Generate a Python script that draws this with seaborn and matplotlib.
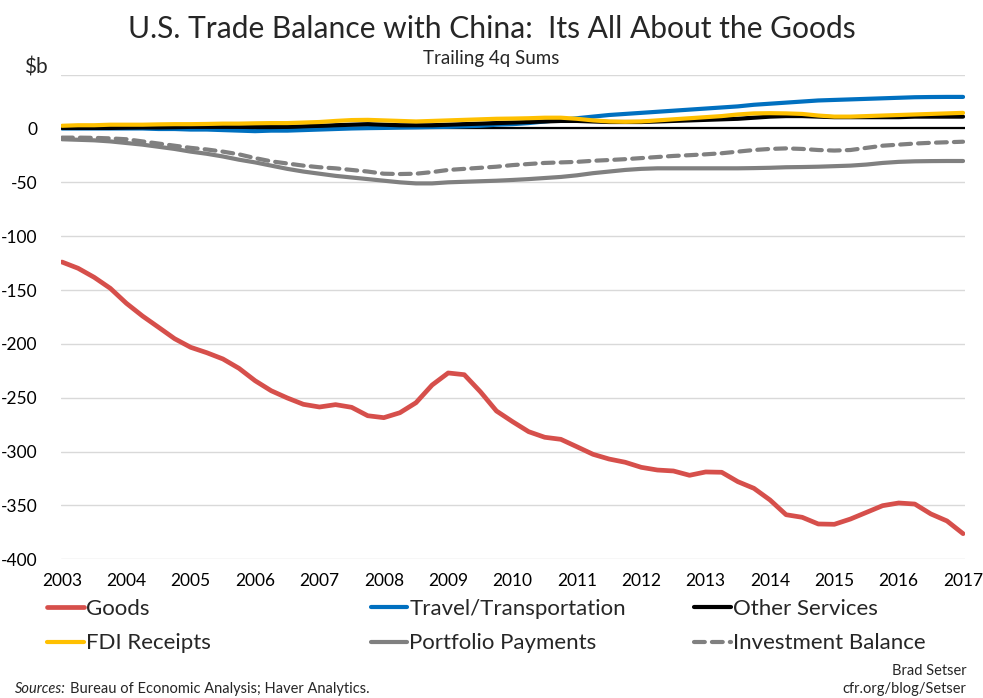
import numpy as np
import pandas as pd
import matplotlib
matplotlib.use("Agg")
import matplotlib.pyplot as plt
import seaborn as sns

# Quarterly trailing four-quarter sums, 2003 through 2017 ($ billions)
years = list(range(2003, 2018))

goods = [-124.0, -129.8, -138.2, -148.4, -162.3, -174.1, -184.6, -195.2,
         -203.2, -208.2, -214.0, -222.7, -234.2, -243.5, -250.2, -256.1,
         -258.6, -256.4, -258.9, -266.7, -268.5, -263.9, -254.6, -238.2,
         -227.0, -228.6, -244.4, -262.3, -272.2, -281.5, -286.7, -288.6,
         -295.5, -302.5, -306.9, -309.9, -314.6, -317.1, -318.0, -322.0,
         -318.9, -319.2, -327.9, -334.1, -344.9, -358.6, -361.0, -367.2,
         -367.5, -362.6, -356.4, -350.2, -347.7, -348.7, -357.9, -364.4,
         -376.2]

travel = [0.0, 0.0, 0.0, 0.0, 0.0, 0.0, -0.5, -0.5, -1.0, -1.0, -1.5, -2.0,
          -2.5, -2.0, -2.0, -1.5, -1.0, -0.5, 0.0, 0.3, 0.5, 0.8, 1.0, 1.3,
          1.5, 2.0, 2.5, 3.5, 4.0, 5.0, 6.5, 8.0, 9.5, 11.0, 12.5, 13.5,
          14.5, 15.5, 16.5, 17.5, 18.5, 19.5, 20.5, 22.0, 23.0, 24.0, 25.0,
          26.0, 26.5, 27.0, 27.5, 28.0, 28.5, 29.0, 29.2, 29.3, 29.3]

other_services = [0.5, 0.5, 0.5, 0.5, 0.8, 1.0, 1.0, 1.2, 1.5, 1.5, 1.5, 1.5,
                  1.3, 1.3, 1.5, 2.0, 2.5, 3.0, 3.5, 4.0, 3.5, 3.0, 3.0, 3.0,
                  3.5, 4.0, 4.5, 5.0, 5.5, 6.0, 6.5, 7.0, 7.0, 6.5, 6.0, 6.0,
                  6.0, 6.5, 7.0, 7.5, 8.0, 8.5, 9.0, 10.0, 11.0, 11.5, 11.5,
                  11.0, 10.5, 10.5, 10.5, 10.5, 10.5, 11.0, 11.0, 11.0, 11.0]

fdi_receipts = [2.5, 3.0, 3.0, 3.5, 3.5, 3.5, 3.8, 4.0, 4.0, 4.2, 4.5, 4.5,
                4.8, 5.0, 5.0, 5.5, 6.0, 7.0, 7.8, 8.0, 7.5, 7.0, 6.5, 7.0,
                7.5, 8.0, 8.5, 9.0, 9.2, 9.5, 10.0, 10.0, 9.0, 7.5, 6.5, 6.2,
                6.5, 7.5, 8.5, 9.5, 10.5, 11.5, 13.0, 14.0, 14.2, 14.0, 13.5,
                12.0, 11.0, 11.0, 11.5, 12.0, 12.5, 13.0, 13.5, 14.0, 14.5]

portfolio = [-10.0, -10.5, -11.0, -12.0, -13.5, -15.0, -17.0, -19.0, -21.5,
             -23.5, -26.0, -29.0, -31.5, -34.5, -37.5, -40.0, -42.0, -44.0,
             -45.5, -47.0, -48.5, -50.0, -51.0, -51.0, -50.0, -49.5, -49.0,
             -48.5, -47.8, -47.0, -46.0, -45.0, -43.5, -41.5, -40.0, -38.5,
             -37.5, -37.0, -37.0, -37.0, -37.0, -37.0, -37.0, -36.8, -36.5,
             -36.0, -35.8, -35.5, -35.0, -34.5, -33.5, -32.0, -31.0, -30.5,
             -30.3, -30.2, -30.2]

investment = [-8.5, -8.5, -8.7, -9.2, -10.0, -12.0, -14.0, -16.0, -18.0,
              -19.5, -21.5, -24.0, -27.5, -30.5, -32.5, -34.5, -36.0, -37.0,
              -38.5, -40.0, -42.0, -42.3, -42.0, -40.5, -38.5, -37.5, -36.5,
              -35.5, -34.0, -33.0, -32.0, -31.5, -31.0, -30.0, -29.3, -28.5,
              -27.5, -26.5, -25.5, -24.8, -24.0, -23.0, -21.5, -20.0, -19.0,
              -18.5, -19.0, -20.0, -20.5, -20.0, -18.0, -16.0, -15.0, -14.0,
              -13.3, -12.8, -12.3]

series = [
    ("Goods", goods, "#D64F4B", 3.4, "-"),
    ("Travel/Transportation", travel, "#0070C0", 3.0, "-"),
    ("Other Services", other_services, "#000000", 3.0, "-"),
    ("FDI Receipts", fdi_receipts, "#FFC000", 3.0, "-"),
    ("Portfolio Payments", portfolio, "#808080", 3.0, "-"),
    ("Investment Balance", investment, "#808080", 3.0, "--"),
]

quarter_pos = years[0] + np.arange(len(goods)) / 4.0

sns.set_style("white")
plt.rcParams["font.family"] = ["Lato", "DejaVu Sans"]
font = ["Lato", "DejaVu Sans"]

fig = plt.figure(figsize=(9.83, 6.98), dpi=100)
ax = fig.add_axes([0.0621, 0.1987, 0.9196, 0.6944])

ax.axhline(0, color="black", lw=1.6, zorder=1.5)

handles = {}
for name, vals, color, lw, ls in series:
    df = pd.DataFrame({"t": quarter_pos, "v": vals})
    sns.lineplot(data=df, x="t", y="v", ax=ax, color=color, linewidth=lw,
                 legend=False, zorder=3)
    line = ax.lines[-1]
    line.set_solid_capstyle("round")
    line.set_solid_joinstyle("round")
    if ls == "--":
        line.set_linestyle((0, (2.6, 1.7)))
        line.set_dash_capstyle("round")
    handles[name] = line

ax.set_xlim(years[0] - 0.015, years[-1] + 0.03)
ax.set_ylim(-400, 50)
ax.set_yticks(np.arange(-400, 51, 50))
ax.set_yticklabels([str(v) for v in range(-400, 1, 50)] + [""])
ax.set_xticks(years)
ax.set_xticklabels([str(y) for y in years])
ax.yaxis.grid(True, color="#D9D9D9", lw=1.0)
ax.xaxis.grid(False)
for s in ax.spines.values():
    s.set_visible(False)
ax.tick_params(axis="both", length=0, labelsize=12.5, colors="black")
ax.tick_params(axis="y", pad=17)
ax.tick_params(axis="x", pad=10)
ax.set_xlabel("")
ax.set_ylabel("")

fig.text(0.036, 0.9026, "$b", ha="center", va="center", fontsize=15,
         family=font)

fig.text(0.5, 0.958, "U.S. Trade Balance with China:  Its All About the Goods",
         ha="center", va="center", fontsize=21.6, family=font)
fig.text(0.5, 0.916, "Trailing 4q Sums", ha="center", va="center",
         fontsize=13.5, family=font)

# Legend laid out as three fixed columns of two rows each
legend_cols = [
    (0.048, ["Goods", "FDI Receipts"]),
    (0.377, ["Travel/Transportation", "Portfolio Payments"]),
    (0.706, ["Other Services", "Investment Balance"]),
]
for xpos, names in legend_cols:
    fig.legend([handles[n] for n in names], names, loc="upper left",
               bbox_to_anchor=(xpos, 0.142), frameon=False,
               borderpad=0, borderaxespad=0, handlelength=1.65,
               handletextpad=0.1, labelspacing=0.65,
               prop={"family": font, "size": 16})

fig.text(0.015, 0.003, "Sources:", ha="left", va="bottom", fontsize=10.5,
         style="italic", family=font)
fig.text(0.071, 0.003, "Bureau of Economic Analysis; Haver Analytics.",
         ha="left", va="bottom", fontsize=10.5, family=font)
fig.text(0.983, 0.003, "Brad Setser\ncfr.org/blog/Setser", ha="right",
         va="bottom", fontsize=10.5, family=font, linespacing=1.4)

fig.savefig("out.png", dpi=100)
